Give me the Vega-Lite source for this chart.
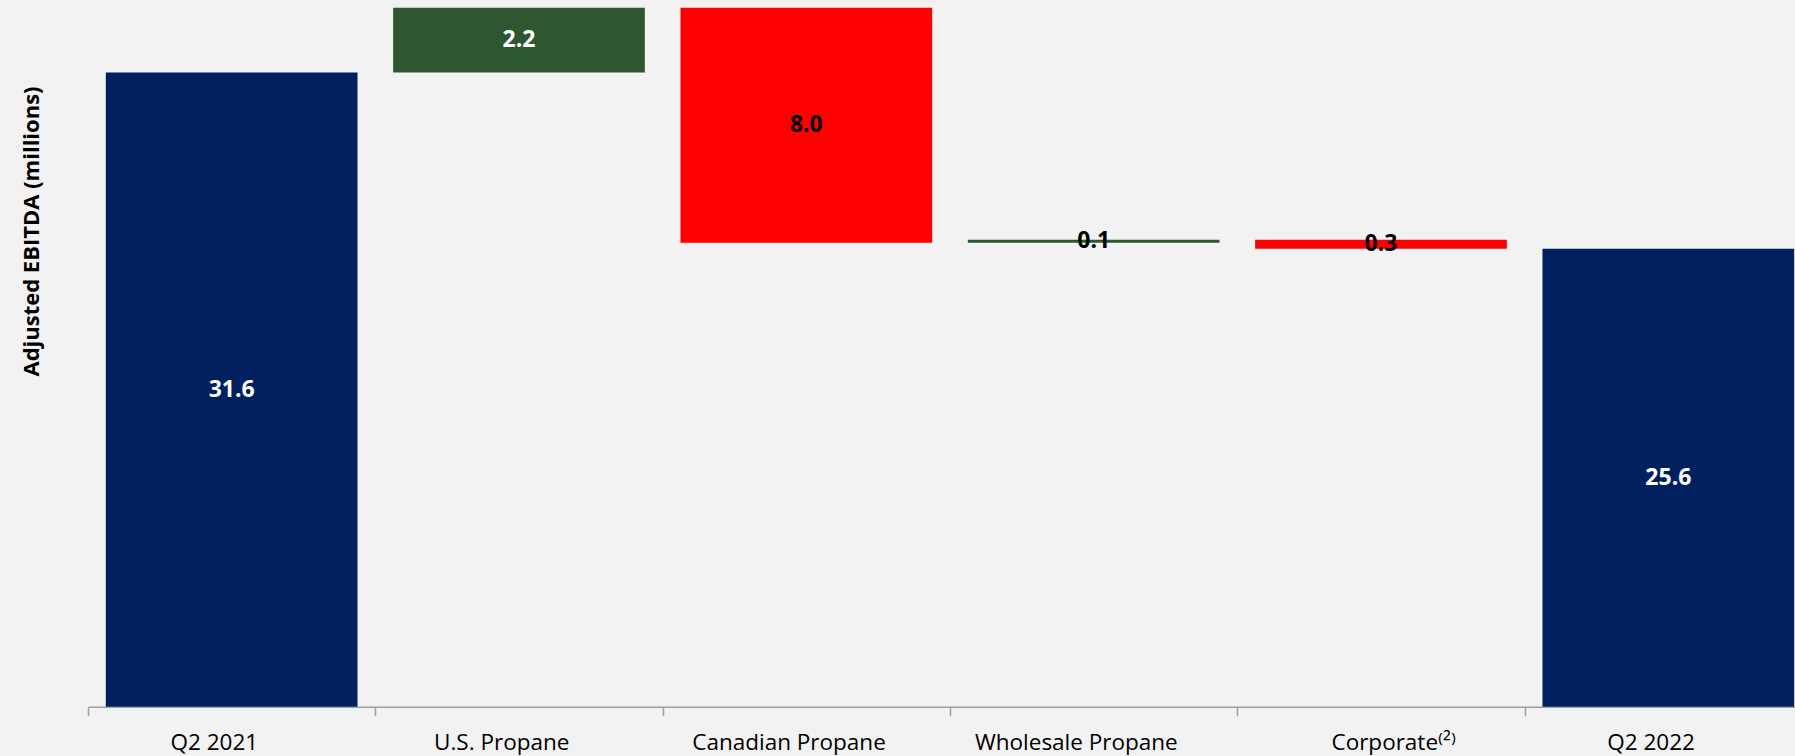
{
  "$schema": "https://vega.github.io/schema/vega-lite/v6.json",
  "width": 1707,
  "height": 704.7,
  "autosize": {"type": "none"},
  "padding": {"left": 88, "top": 2, "right": 0, "bottom": 49.3},
  "background": "#F2F2F2",
  "config": {"view": {"stroke": null}},
  "data": {
    "values": [
      {"category": "Q2 2021", "start": 0, "end": 31.6, "value": 31.6, "type": "total"},
      {"category": "U.S. Propane", "start": 31.6, "end": 33.8, "value": 2.2, "type": "increase"},
      {"category": "Canadian Propane", "start": 33.8, "end": 25.8, "value": 8.0, "type": "decrease"},
      {"category": "Wholesale Propane", "start": 25.8, "end": 25.9, "value": 0.1, "type": "increase"},
      {"category": "Corporate⁽²⁾", "start": 25.9, "end": 25.6, "value": 0.3, "type": "decrease"},
      {"category": "Q2 2022", "start": 0, "end": 25.6, "value": 25.6, "type": "total"}
    ]
  },
  "transform": [{"calculate": "(max(datum.start, 10) + datum.end) / 2", "as": "mid"}],
  "encoding": {
    "x": {
      "field": "category",
      "type": "nominal",
      "sort": null,
      "scale": {"range": [0, 1724], "paddingInner": 0.124, "paddingOuter": 0.062},
      "axis": {
        "title": null,
        "labelFont": "Open Sans",
        "labelFontSize": 22.5,
        "labelColor": "black",
        "labelAngle": 0,
        "labelLimit": 0,
        "labelBaseline": "alphabetic",
        "labelPadding": 34,
        "labelOffset": {"condition": {"test": "indexof(datum.value, 'Corporate') >= 0", "value": 30}, "value": 0},
        "tickSize": 9,
        "tickColor": "#A0A0A0",
        "tickWidth": 1.5,
        "domainColor": "#A0A0A0",
        "domainWidth": 1.5,
        "bandPosition": 0,
        "tickOffset": -17.8,
        "grid": false
      }
    }
  },
  "layer": [
    {
      "mark": {"type": "bar", "clip": true},
      "encoding": {
        "y": {
          "field": "start",
          "type": "quantitative",
          "scale": {"domain": [10, 34], "zero": false, "nice": false},
          "axis": {
            "title": "Adjusted EBITDA (millions)",
            "labels": false,
            "ticks": false,
            "domain": false,
            "grid": false,
            "titleFont": "Open Sans",
            "titleFontSize": 22,
            "titleFontWeight": "bold",
            "titleColor": "black",
            "titleX": -57,
            "titleY": 229,
            "titleAlign": "center",
            "titleBaseline": "middle",
            "titleAngle": -90
          }
        },
        "y2": {"field": "end"},
        "color": {
          "field": "type",
          "type": "nominal",
          "scale": {"domain": ["total", "increase", "decrease"], "range": ["#002060", "#2E5730", "#FF0000"]},
          "legend": null
        }
      }
    },
    {
      "mark": {"type": "text", "font": "Open Sans", "fontWeight": "bold", "fontSize": 23, "baseline": "middle"},
      "encoding": {
        "y": {"field": "mid", "type": "quantitative"},
        "text": {"field": "value", "type": "quantitative", "format": ".1f"},
        "color": {
          "condition": {"test": "datum.type !== 'decrease' && datum.value > 1", "value": "white"},
          "value": "black"
        }
      }
    }
  ]
}
